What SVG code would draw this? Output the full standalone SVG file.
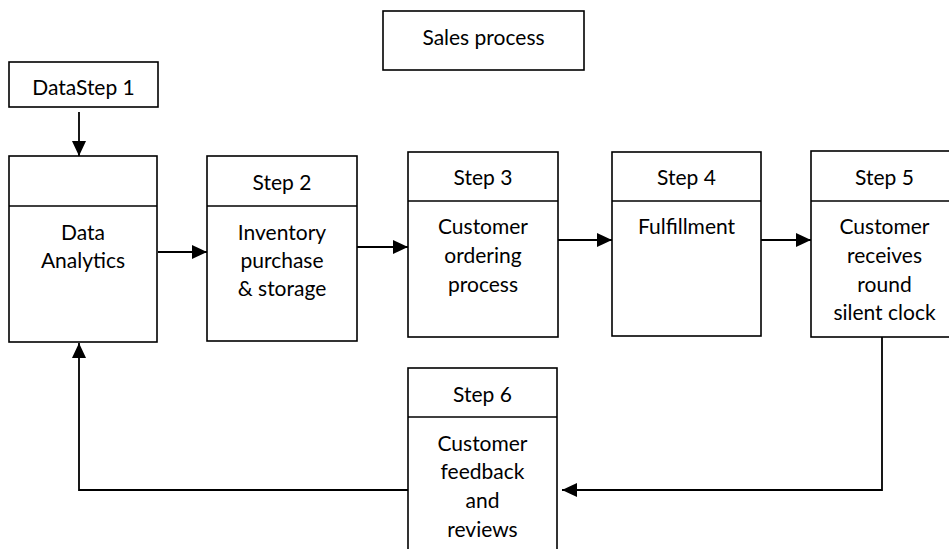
<svg xmlns="http://www.w3.org/2000/svg" width="949" height="549" viewBox="0 0 949 549">
<style>
.box{fill:#fff;stroke:#000;stroke-width:1.6}
.div{stroke:#000;stroke-width:1.6}
.t{font-family:Lato,"Liberation Sans",sans-serif;font-size:21px;fill:#000;text-anchor:middle}
.c{fill:none;stroke:#000;stroke-width:1.8}
</style>
<defs>
<marker id="ah" viewBox="0 0 15 14" refX="15" refY="7" markerWidth="15" markerHeight="14" markerUnits="userSpaceOnUse" orient="auto">
<path d="M0,0 L15,7 L0,14 Z" fill="#000"/>
</marker>
</defs>
<rect width="949" height="549" fill="#fff"/>
<g id="title">
<rect class="box" x="383" y="11" width="201" height="59"/>
<text class="t" x="483.5" y="45">Sales process</text>
</g>
<g id="datastep1">
<rect class="box" x="9" y="62" width="149" height="45"/>
<text class="t" x="83.5" y="95">DataStep 1</text>
</g>
<g id="step1">
<rect class="box" x="9" y="156" width="148" height="186"/>
<line class="div" x1="9" y1="206" x2="157" y2="206"/>
<text class="t" x="83" y="240">Data</text>
<text class="t" x="83" y="268">Analytics</text>
</g>
<g id="step2">
<rect class="box" x="207" y="156" width="150" height="185"/>
<line class="div" x1="207" y1="206" x2="357" y2="206"/>
<text class="t" x="282" y="190">Step 2</text>
<text class="t" x="282" y="240">Inventory</text>
<text class="t" x="282" y="268">purchase</text>
<text class="t" x="282" y="296">&amp; storage</text>
</g>
<g id="step3">
<rect class="box" x="408" y="152" width="150" height="185"/>
<line class="div" x1="408" y1="201" x2="558" y2="201"/>
<text class="t" x="483" y="185">Step 3</text>
<text class="t" x="483" y="234">Customer</text>
<text class="t" x="483" y="263">ordering</text>
<text class="t" x="483" y="292">process</text>
</g>
<g id="step4">
<rect class="box" x="612" y="152" width="149" height="184"/>
<line class="div" x1="612" y1="201" x2="761" y2="201"/>
<text class="t" x="686.5" y="185">Step 4</text>
<text class="t" x="686.5" y="234">Fulfillment</text>
</g>
<g id="step5">
<rect class="box" x="811" y="151" width="147" height="186"/>
<line class="div" x1="811" y1="201" x2="958" y2="201"/>
<text class="t" x="884.5" y="185">Step 5</text>
<text class="t" x="884.5" y="234">Customer</text>
<text class="t" x="884.5" y="263">receives</text>
<text class="t" x="884.5" y="292">round</text>
<text class="t" x="884.5" y="320">silent clock</text>
</g>
<g id="step6">
<rect class="box" x="408" y="368" width="149" height="200"/>
<line class="div" x1="408" y1="417" x2="557" y2="417"/>
<text class="t" x="482.5" y="402">Step 6</text>
<text class="t" x="482.5" y="451">Customer</text>
<text class="t" x="482.5" y="479">feedback</text>
<text class="t" x="482.5" y="508">and</text>
<text class="t" x="482.5" y="537">reviews</text>
</g>
<g id="connectors">
<line class="c" x1="79" y1="112" x2="79" y2="156" marker-end="url(#ah)"/>
<line class="c" x1="158" y1="252" x2="207" y2="252" marker-end="url(#ah)"/>
<line class="c" x1="357" y1="247" x2="408" y2="247" marker-end="url(#ah)"/>
<line class="c" x1="558" y1="240" x2="612" y2="240" marker-end="url(#ah)"/>
<line class="c" x1="761" y1="240" x2="811" y2="240" marker-end="url(#ah)"/>
<polyline class="c" points="882,337 882,490 562,490" marker-end="url(#ah)"/>
<polyline class="c" points="408,490 79,490 79,343" marker-end="url(#ah)"/>
</g>
</svg>
